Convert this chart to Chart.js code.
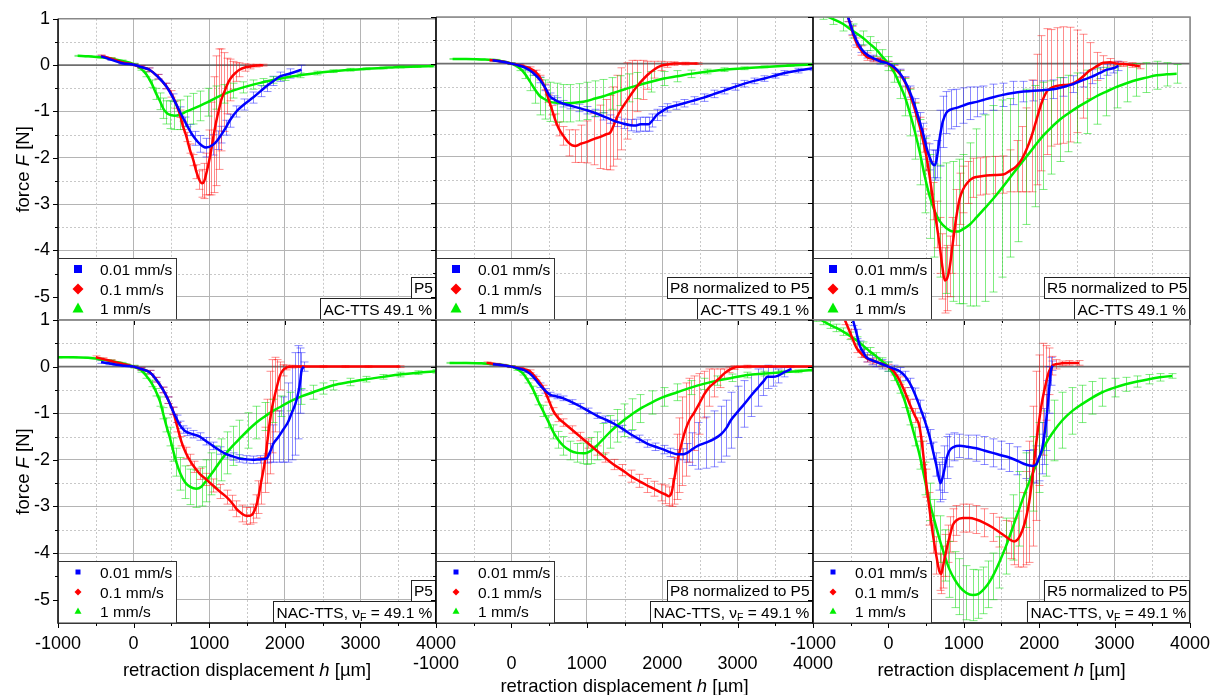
<!DOCTYPE html>
<html><head><meta charset="utf-8">
<script src="https://cdn.jsdelivr.net/npm/chart.js@4"></script>
<style>
html,body{margin:0;padding:0;background:#fff;}
#wrap{position:relative;width:1220px;height:695px;overflow:hidden;background:#fff;}
#wrap canvas{position:absolute;left:0;top:0;}
</style></head><body><div id="wrap">
<canvas id="c0" width="1220" height="695"></canvas>
<canvas id="c1" width="1220" height="695"></canvas>
<canvas id="c2" width="1220" height="695"></canvas>
<canvas id="c3" width="1220" height="695"></canvas>
<canvas id="c4" width="1220" height="695"></canvas>
<canvas id="c5" width="1220" height="695"></canvas>
</div>
<script>
// ---------- tick labels / categories ----------
const X_TICKS = [-1000, 0, 1000, 2000, 3000, 4000];
const Y_TICKS = [1, 0, -1, -2, -3, -4, -5];
const X_MINOR = [-500, 500, 1500, 2500, 3500];
const Y_MINOR = [0.5, -0.5, -1.5, -2.5, -3.5, -4.5];
const SPEEDS = ['0.01 mm/s', '0.1 mm/s', '1 mm/s'];
const SPECIMEN_LABELS = ['P5', 'P8 normalized to P5', 'R5 normalized to P5'];
const X_TITLE = 'retraction displacement h [µm]';
const Y_TITLE = 'force F [N]';

// ---------- AC-TTS, P5 ----------
const AC_P5_v001_h = [-430,-300,-150,0,100,210,320,430,520,610,680,740,810,875,960,1050,1110,1160,1220,1270,1360,1460,1580,1680,1760,1850,1930,2070,2220];
const AC_P5_v001_F = [0.19,0.12,0.04,0.01,-0.04,-0.1,-0.25,-0.45,-0.7,-1.0,-1.22,-1.4,-1.58,-1.7,-1.78,-1.72,-1.62,-1.5,-1.35,-1.2,-1.0,-0.85,-0.7,-0.56,-0.45,-0.34,-0.25,-0.18,-0.1];
const AC_P5_v001_err = [0.02,0.02,0.02,0.02,0.03,0.04,0.05,0.06,0.08,0.1,0.1,0.12,0.15,0.18,0.2,0.22,0.2,0.18,0.16,0.14,0.12,0.12,0.12,0.12,0.12,0.1,0.1,0.1,0.1];
const AC_P5_v01_h = [-430,-300,-150,0,100,210,320,430,500,565,610,650,700,740,790,830,870,905,935,960,995,1030,1060,1095,1130,1160,1200,1230,1270,1315,1360,1400,1470,1540,1620,1710];
const AC_P5_v01_F = [0.2,0.14,0.06,0.01,-0.04,-0.1,-0.25,-0.45,-0.62,-0.85,-1.05,-1.3,-1.55,-1.8,-2.05,-2.3,-2.48,-2.55,-2.5,-2.35,-2.1,-1.8,-1.5,-1.2,-0.95,-0.75,-0.58,-0.45,-0.32,-0.22,-0.15,-0.1,-0.05,-0.03,-0.01,0.0];
const AC_P5_v01_err = [0.02,0.02,0.02,0.02,0.03,0.04,0.05,0.06,0.07,0.08,0.08,0.09,0.1,0.1,0.12,0.15,0.2,0.3,0.38,0.45,0.7,1.0,1.25,1.4,1.3,1.1,0.85,0.6,0.45,0.3,0.2,0.15,0.08,0.05,0.03,0.02];
const AC_P5_v1_h = [-740,-600,-450,-300,-150,0,100,170,240,300,350,390,430,475,540,610,700,790,875,980,1095,1200,1315,1450,1580,1710,1845,2000,2200,2420,2640,2860,3080,3300,3520,3750,3965];
const AC_P5_v1_F = [0.2,0.19,0.17,0.14,0.09,0.02,-0.08,-0.2,-0.4,-0.62,-0.78,-0.93,-1.02,-1.07,-1.09,-1.07,-1.0,-0.94,-0.88,-0.8,-0.7,-0.62,-0.55,-0.48,-0.42,-0.37,-0.32,-0.27,-0.22,-0.17,-0.13,-0.1,-0.08,-0.06,-0.04,-0.03,-0.02];
const AC_P5_v1_err = [0.01,0.01,0.01,0.02,0.02,0.02,0.03,0.05,0.08,0.12,0.18,0.22,0.25,0.3,0.3,0.32,0.33,0.33,0.32,0.3,0.25,0.2,0.16,0.12,0.1,0.08,0.07,0.06,0.05,0.04,0.03,0.03,0.02,0.02,0.02,0.02,0.02];

// ---------- AC-TTS, P8 normalized to P5 ----------
const AC_P8_v001_h = [-250,-120,0,100,200,290,380,450,510,560,600,690,780,890,1000,1110,1220,1310,1400,1490,1580,1650,1710,1770,1820,1870,1930,2000,2070,2180,2290,2420,2550,2690,2820,2960,3090,3220,3355,3490,3620,3800,4000];
const AC_P8_v001_F = [0.07,0.04,0.0,-0.04,-0.1,-0.2,-0.35,-0.52,-0.7,-0.76,-0.8,-0.86,-0.9,-0.95,-1.0,-1.06,-1.13,-1.19,-1.25,-1.29,-1.32,-1.33,-1.3,-1.3,-1.3,-1.22,-1.1,-1.02,-0.95,-0.9,-0.85,-0.79,-0.73,-0.65,-0.58,-0.5,-0.43,-0.37,-0.32,-0.26,-0.2,-0.15,-0.1];
const AC_P8_v001_err = [0.02,0.02,0.02,0.03,0.04,0.05,0.06,0.06,0.07,0.07,0.07,0.07,0.07,0.08,0.08,0.08,0.08,0.09,0.1,0.1,0.12,0.14,0.15,0.15,0.15,0.14,0.12,0.1,0.09,0.08,0.08,0.08,0.08,0.08,0.07,0.07,0.07,0.06,0.06,0.05,0.05,0.05,0.05];
const AC_P8_v01_h = [-290,-150,0,120,245,320,380,440,490,540,580,630,690,760,845,920,1000,1090,1180,1250,1310,1350,1400,1460,1530,1600,1670,1740,1800,1890,1980,2070,2155,2300,2470];
const AC_P8_v01_F = [0.08,0.05,0.0,-0.04,-0.1,-0.18,-0.3,-0.5,-0.75,-1.0,-1.2,-1.4,-1.55,-1.7,-1.77,-1.72,-1.68,-1.62,-1.57,-1.52,-1.48,-1.35,-1.15,-0.97,-0.8,-0.63,-0.48,-0.35,-0.25,-0.13,-0.05,-0.02,0.0,0.0,0.0];
const AC_P8_v01_err = [0.01,0.01,0.01,0.02,0.03,0.04,0.05,0.06,0.08,0.1,0.12,0.15,0.2,0.28,0.35,0.4,0.45,0.55,0.68,0.75,0.8,0.85,0.9,0.88,0.82,0.7,0.55,0.42,0.3,0.18,0.1,0.06,0.04,0.03,0.02];
const AC_P8_v1_h = [-780,-600,-400,-200,0,110,180,245,310,380,450,510,600,690,780,890,1000,1110,1220,1330,1445,1560,1670,1850,2020,2200,2380,2600,2820,3090,3355,3700,4020];
const AC_P8_v1_F = [0.1,0.1,0.09,0.07,0.0,-0.1,-0.22,-0.38,-0.55,-0.7,-0.77,-0.82,-0.84,-0.85,-0.85,-0.83,-0.8,-0.75,-0.7,-0.64,-0.58,-0.52,-0.47,-0.39,-0.32,-0.27,-0.22,-0.17,-0.13,-0.1,-0.07,-0.04,-0.02];
const AC_P8_v1_err = [0.01,0.01,0.01,0.02,0.02,0.05,0.1,0.2,0.3,0.4,0.42,0.42,0.42,0.4,0.4,0.4,0.4,0.38,0.36,0.34,0.32,0.3,0.28,0.22,0.15,0.12,0.08,0.05,0.04,0.03,0.02,0.02,0.02];

// ---------- AC-TTS, R5 normalized to P5 ----------
const AC_R5_v001_h = [-535,-480,-425,-360,-290,-200,-115,0,80,150,220,283,350,416,460,505,545,585,615,640,680,720,770,830,900,990,1080,1170,1257,1390,1520,1650,1790,1920,2050,2180,2320,2450,2585,2700,2805,2900,2980,3050];
const AC_R5_v001_F = [1.0,0.72,0.5,0.32,0.2,0.12,0.05,0.0,-0.08,-0.2,-0.38,-0.6,-0.9,-1.25,-1.5,-1.8,-2.0,-2.15,-2.18,-2.05,-1.6,-1.25,-1.05,-0.98,-0.95,-0.9,-0.85,-0.82,-0.78,-0.72,-0.67,-0.63,-0.6,-0.58,-0.57,-0.55,-0.5,-0.44,-0.35,-0.28,-0.2,-0.13,-0.1,-0.05];
const AC_R5_v001_err = [0.1,0.1,0.1,0.08,0.08,0.06,0.06,0.05,0.06,0.08,0.1,0.12,0.15,0.2,0.22,0.25,0.28,0.3,0.32,0.4,0.6,0.55,0.45,0.42,0.4,0.38,0.35,0.32,0.3,0.28,0.25,0.25,0.22,0.22,0.2,0.2,0.2,0.18,0.15,0.15,0.12,0.12,0.1,0.1];
const AC_R5_v01_h = [-535,-480,-425,-360,-290,-200,-115,0,80,150,220,283,350,416,460,505,550,593,640,680,715,748,780,815,850,900,945,990,1050,1124,1210,1300,1410,1520,1610,1700,1770,1830,1900,1965,2030,2100,2160,2230,2320,2410,2500,2585,2670,2760,2850,2940,3030,3115,3230,3335];
const AC_R5_v01_F = [1.0,0.7,0.45,0.28,0.15,0.1,0.08,0.0,-0.1,-0.22,-0.4,-0.65,-0.98,-1.35,-1.65,-2.0,-2.45,-2.95,-3.45,-3.9,-4.35,-4.65,-4.6,-4.35,-3.9,-3.3,-2.9,-2.7,-2.55,-2.45,-2.42,-2.4,-2.39,-2.38,-2.3,-2.2,-2.05,-1.85,-1.55,-1.2,-0.85,-0.6,-0.52,-0.48,-0.46,-0.45,-0.38,-0.27,-0.15,-0.06,0.02,0.03,0.0,-0.01,-0.03,-0.06];
const AC_R5_v01_err = [0.1,0.1,0.1,0.1,0.08,0.06,0.05,0.05,0.06,0.08,0.1,0.12,0.15,0.2,0.25,0.3,0.35,0.4,0.5,0.6,0.7,0.7,0.7,0.65,0.6,0.6,0.55,0.5,0.45,0.42,0.4,0.4,0.4,0.4,0.45,0.55,0.7,0.9,1.2,1.4,1.45,1.35,1.25,1.25,1.25,1.23,1.1,0.9,0.6,0.3,0.15,0.08,0.05,0.05,0.05,0.05];
const AC_R5_v1_h = [-870,-740,-600,-470,-336,-250,-160,-80,0,80,150,220,283,350,416,480,548,610,680,770,860,930,990,1080,1168,1280,1390,1500,1610,1720,1830,1940,2050,2160,2275,2385,2495,2630,2760,2890,3026,3160,3290,3420,3557,3690,3823];
const AC_R5_v1_F = [1.05,0.96,0.85,0.7,0.55,0.43,0.3,0.15,0.0,-0.2,-0.45,-0.72,-1.05,-1.45,-1.9,-2.4,-2.85,-3.15,-3.38,-3.53,-3.6,-3.6,-3.55,-3.45,-3.3,-3.1,-2.9,-2.68,-2.45,-2.22,-2.0,-1.77,-1.55,-1.37,-1.2,-1.07,-0.95,-0.82,-0.7,-0.6,-0.5,-0.42,-0.35,-0.3,-0.25,-0.23,-0.22];
const AC_R5_v1_err = [0.1,0.12,0.15,0.15,0.15,0.15,0.15,0.15,0.15,0.2,0.3,0.4,0.5,0.6,0.7,0.8,0.9,1.0,1.2,1.4,1.5,1.55,1.6,1.75,1.9,2.0,2.0,1.9,1.7,1.6,1.45,1.3,1.15,1.0,0.9,0.82,0.75,0.68,0.6,0.52,0.45,0.4,0.35,0.32,0.3,0.25,0.2];

// ---------- NAC-TTS, P5 ----------
const NAC_P5_v001_h = [-430,-330,-230,-120,0,100,212,300,390,460,520,570,610,660,700,780,875,960,1050,1140,1230,1320,1400,1490,1580,1670,1760,1800,1850,1920,1980,2040,2090,2140,2180,2205,2220,2250];
const NAC_P5_v001_F = [0.1,0.07,0.04,0.02,0.0,-0.05,-0.12,-0.28,-0.5,-0.72,-0.95,-1.12,-1.25,-1.35,-1.4,-1.45,-1.5,-1.6,-1.7,-1.8,-1.88,-1.93,-1.97,-1.99,-2.0,-1.99,-1.97,-1.85,-1.65,-1.5,-1.35,-1.2,-1.0,-0.8,-0.55,-0.3,-0.1,0.0];
const NAC_P5_v001_err = [0.03,0.03,0.02,0.02,0.02,0.03,0.04,0.05,0.06,0.07,0.08,0.08,0.08,0.08,0.08,0.08,0.08,0.08,0.08,0.08,0.08,0.08,0.08,0.08,0.08,0.08,0.1,0.2,0.4,0.55,0.7,0.85,1.0,1.1,1.0,0.7,0.4,0.1];
const NAC_P5_v01_h = [-500,-400,-300,-200,-100,0,100,212,300,390,460,520,580,630,690,740,800,875,960,1050,1140,1230,1300,1360,1430,1490,1540,1580,1620,1650,1690,1740,1770,1800,1835,1870,1900,1935,1975,2020,2100,2200,2500,2800,3100,3520];
const NAC_P5_v01_F = [0.2,0.16,0.12,0.08,0.04,0.0,-0.05,-0.12,-0.28,-0.5,-0.72,-0.95,-1.3,-1.6,-1.85,-2.0,-2.15,-2.3,-2.42,-2.55,-2.68,-2.8,-2.92,-3.05,-3.15,-3.2,-3.2,-3.15,-3.0,-2.8,-2.45,-2.0,-1.6,-1.2,-0.85,-0.6,-0.4,-0.2,-0.08,-0.02,0.0,0.0,0.0,0.0,0.0,0.0];
const NAC_P5_v01_err = [0.03,0.03,0.03,0.02,0.02,0.02,0.03,0.04,0.05,0.06,0.07,0.08,0.1,0.1,0.12,0.12,0.12,0.12,0.13,0.14,0.15,0.15,0.16,0.17,0.18,0.18,0.18,0.2,0.25,0.35,0.5,0.7,0.9,1.1,1.0,0.8,0.55,0.3,0.12,0.05,0.03,0.02,0.02,0.02,0.02,0.02];
const NAC_P5_v1_h = [-1000,-800,-600,-450,-300,-150,0,100,170,240,300,350,390,430,475,520,565,620,680,750,830,900,960,1030,1095,1160,1230,1310,1400,1510,1625,1735,1845,1955,2065,2220,2375,2510,2640,2860,3080,3300,3520,3760,4000];
const NAC_P5_v1_F = [0.2,0.2,0.19,0.16,0.12,0.07,0.0,-0.08,-0.2,-0.36,-0.55,-0.75,-1.0,-1.25,-1.5,-1.78,-2.05,-2.3,-2.48,-2.58,-2.62,-2.57,-2.45,-2.3,-2.15,-2.0,-1.85,-1.7,-1.55,-1.37,-1.2,-1.07,-0.95,-0.85,-0.75,-0.64,-0.55,-0.47,-0.4,-0.33,-0.27,-0.22,-0.17,-0.13,-0.1];
const NAC_P5_v1_err = [0.01,0.01,0.01,0.02,0.02,0.02,0.03,0.04,0.05,0.07,0.08,0.1,0.12,0.15,0.2,0.25,0.3,0.35,0.35,0.38,0.4,0.42,0.45,0.45,0.45,0.45,0.45,0.42,0.4,0.38,0.35,0.3,0.25,0.22,0.2,0.17,0.15,0.12,0.1,0.08,0.06,0.05,0.05,0.04,0.04];

// ---------- NAC-TTS, P8 normalized to P5 ----------
const NAC_P8_v001_h = [-245,-120,0,100,200,290,380,450,510,600,690,800,910,1020,1130,1240,1355,1470,1580,1690,1800,1910,2020,2110,2200,2270,2330,2400,2470,2580,2690,2780,2850,2910,3000,3090,3180,3270,3340,3400,3470,3530,3620,3710];
const NAC_P8_v001_F = [0.05,0.03,0.0,-0.04,-0.1,-0.22,-0.4,-0.52,-0.6,-0.64,-0.68,-0.76,-0.85,-0.95,-1.05,-1.13,-1.22,-1.33,-1.45,-1.55,-1.65,-1.72,-1.78,-1.84,-1.88,-1.88,-1.85,-1.77,-1.7,-1.63,-1.55,-1.45,-1.32,-1.15,-0.97,-0.8,-0.62,-0.45,-0.32,-0.22,-0.22,-0.2,-0.12,-0.05];
const NAC_P8_v001_err = [0.02,0.02,0.02,0.02,0.03,0.04,0.05,0.05,0.05,0.05,0.05,0.05,0.06,0.06,0.06,0.07,0.07,0.07,0.08,0.08,0.08,0.08,0.09,0.09,0.1,0.12,0.2,0.35,0.5,0.55,0.6,0.6,0.6,0.6,0.55,0.5,0.45,0.4,0.3,0.25,0.2,0.15,0.1,0.05];
const NAC_P8_v01_h = [-330,-200,0,120,245,330,420,490,555,620,690,800,910,1020,1130,1240,1355,1470,1580,1690,1800,1890,1980,2040,2090,2125,2155,2190,2220,2265,2310,2360,2420,2490,2555,2620,2690,2760,2820,2890,2955,3130,3400,3700,4020];
const NAC_P8_v01_F = [0.08,0.05,0.0,-0.04,-0.1,-0.25,-0.45,-0.7,-0.95,-1.1,-1.2,-1.35,-1.5,-1.65,-1.8,-1.95,-2.1,-2.22,-2.35,-2.45,-2.55,-2.62,-2.7,-2.74,-2.78,-2.7,-2.45,-2.15,-1.9,-1.6,-1.35,-1.15,-1.0,-0.8,-0.6,-0.45,-0.35,-0.25,-0.15,-0.07,-0.02,0.0,0.0,0.0,0.0];
const NAC_P8_v01_err = [0.02,0.02,0.02,0.02,0.03,0.04,0.05,0.06,0.07,0.08,0.08,0.08,0.09,0.1,0.1,0.1,0.11,0.12,0.13,0.14,0.15,0.16,0.18,0.2,0.2,0.3,0.5,0.7,0.8,0.95,1.0,0.9,0.8,0.65,0.5,0.4,0.3,0.2,0.1,0.06,0.04,0.03,0.02,0.02,0.02];
const NAC_P8_v1_h = [-820,-600,-400,-200,0,80,155,220,290,350,420,490,555,620,690,780,870,950,1000,1060,1130,1220,1310,1400,1490,1600,1710,1860,2020,2200,2380,2550,2730,2930,3130,3350,3580,3800,4020];
const NAC_P8_v1_F = [0.08,0.08,0.07,0.05,0.0,-0.06,-0.15,-0.3,-0.5,-0.72,-0.95,-1.18,-1.4,-1.57,-1.7,-1.8,-1.85,-1.86,-1.85,-1.8,-1.7,-1.55,-1.4,-1.27,-1.15,-1.02,-0.9,-0.77,-0.65,-0.55,-0.45,-0.37,-0.3,-0.24,-0.18,-0.15,-0.12,-0.1,-0.07];
const NAC_P8_v1_err = [0.01,0.01,0.01,0.01,0.02,0.02,0.03,0.05,0.08,0.1,0.12,0.13,0.15,0.18,0.2,0.2,0.2,0.22,0.25,0.28,0.3,0.33,0.35,0.35,0.35,0.33,0.3,0.25,0.2,0.18,0.15,0.12,0.1,0.08,0.06,0.05,0.04,0.03,0.03];

// ---------- NAC-TTS, R5 normalized to P5 ----------
const NAC_R5_v001_h = [-467,-420,-380,-330,-290,-220,-160,-80,0,80,150,220,282,350,414,480,546,590,634,665,690,715,744,775,810,870,943,1050,1163,1270,1383,1490,1603,1710,1823,1870,1912,1960,2000,2040,2066,2090,2110,2132,2154,2176];
const NAC_R5_v001_F = [0.98,0.7,0.45,0.3,0.2,0.14,0.1,0.05,0.0,-0.05,-0.1,-0.2,-0.35,-0.58,-0.85,-1.15,-1.5,-1.8,-2.1,-2.35,-2.5,-2.4,-2.2,-1.95,-1.8,-1.72,-1.7,-1.72,-1.75,-1.8,-1.85,-1.9,-1.95,-2.02,-2.1,-2.12,-2.13,-2.1,-1.95,-1.75,-1.5,-1.2,-0.9,-0.5,-0.1,0.02];
const NAC_R5_v001_err = [0.1,0.1,0.1,0.1,0.1,0.1,0.1,0.1,0.1,0.08,0.08,0.1,0.1,0.12,0.13,0.15,0.15,0.18,0.25,0.3,0.4,0.45,0.5,0.45,0.35,0.3,0.25,0.25,0.28,0.3,0.3,0.3,0.3,0.3,0.3,0.32,0.35,0.4,0.5,0.55,0.6,0.6,0.6,0.5,0.3,0.1];
const NAC_R5_v01_h = [-577,-500,-423,-360,-290,-200,-100,0,80,150,220,282,350,414,460,502,545,590,635,678,700,722,755,788,820,854,900,987,1075,1163,1270,1383,1470,1560,1620,1670,1720,1780,1825,1868,1912,1956,2000,2044,2090,2132,2176,2220,2300,2396,2528];
const NAC_R5_v01_F = [1.0,0.7,0.4,0.28,0.18,0.12,0.07,0.0,-0.12,-0.3,-0.55,-0.8,-1.05,-1.3,-1.85,-2.5,-3.05,-3.6,-4.05,-4.4,-4.45,-4.3,-4.05,-3.8,-3.6,-3.4,-3.3,-3.25,-3.25,-3.28,-3.35,-3.45,-3.55,-3.65,-3.72,-3.75,-3.7,-3.5,-3.25,-2.9,-2.35,-1.7,-1.15,-0.7,-0.35,-0.1,0.02,0.05,0.07,0.08,0.08];
const NAC_R5_v01_err = [0.1,0.1,0.1,0.08,0.08,0.06,0.06,0.05,0.06,0.08,0.1,0.1,0.15,0.2,0.25,0.3,0.35,0.4,0.4,0.4,0.42,0.45,0.45,0.4,0.38,0.35,0.32,0.3,0.3,0.3,0.3,0.3,0.32,0.35,0.4,0.5,0.6,0.8,1.0,1.3,1.5,1.6,1.4,1.2,0.8,0.5,0.2,0.1,0.05,0.05,0.05];
const NAC_R5_v1_h = [-955,-870,-780,-690,-600,-510,-420,-336,-250,-160,-80,0,80,150,220,282,350,414,480,546,610,678,745,810,880,943,1030,1119,1190,1251,1320,1383,1470,1560,1650,1736,1825,1912,2000,2088,2200,2308,2440,2573,2700,2837,3000,3145,3300,3454,3600,3762];
const NAC_R5_v1_F = [1.05,0.98,0.9,0.83,0.75,0.66,0.56,0.45,0.33,0.22,0.11,0.0,-0.2,-0.45,-0.75,-1.1,-1.5,-1.9,-2.4,-2.9,-3.3,-3.7,-4.05,-4.35,-4.57,-4.72,-4.85,-4.9,-4.88,-4.8,-4.67,-4.5,-4.2,-3.85,-3.45,-3.05,-2.65,-2.3,-1.95,-1.65,-1.37,-1.15,-0.95,-0.8,-0.67,-0.55,-0.45,-0.38,-0.32,-0.27,-0.23,-0.2];
const NAC_R5_v1_err = [0.08,0.08,0.08,0.08,0.08,0.08,0.08,0.08,0.08,0.08,0.08,0.1,0.1,0.12,0.13,0.15,0.2,0.3,0.35,0.4,0.45,0.5,0.55,0.6,0.6,0.6,0.58,0.55,0.52,0.5,0.5,0.5,0.55,0.6,0.7,0.8,0.8,0.8,0.75,0.7,0.65,0.6,0.5,0.4,0.35,0.3,0.2,0.15,0.12,0.1,0.08,0.05];

// ---------- panel definitions ----------
const PANELS = [
  {col:0,row:0,spec:0,series:[[AC_P5_v001_h,AC_P5_v001_F,AC_P5_v001_err],[AC_P5_v01_h,AC_P5_v01_F,AC_P5_v01_err],[AC_P5_v1_h,AC_P5_v1_F,AC_P5_v1_err]]},
  {col:1,row:0,spec:1,series:[[AC_P8_v001_h,AC_P8_v001_F,AC_P8_v001_err],[AC_P8_v01_h,AC_P8_v01_F,AC_P8_v01_err],[AC_P8_v1_h,AC_P8_v1_F,AC_P8_v1_err]]},
  {col:2,row:0,spec:2,series:[[AC_R5_v001_h,AC_R5_v001_F,AC_R5_v001_err],[AC_R5_v01_h,AC_R5_v01_F,AC_R5_v01_err],[AC_R5_v1_h,AC_R5_v1_F,AC_R5_v1_err]]},
  {col:0,row:1,spec:0,series:[[NAC_P5_v001_h,NAC_P5_v001_F,NAC_P5_v001_err],[NAC_P5_v01_h,NAC_P5_v01_F,NAC_P5_v01_err],[NAC_P5_v1_h,NAC_P5_v1_F,NAC_P5_v1_err]]},
  {col:1,row:1,spec:1,series:[[NAC_P8_v001_h,NAC_P8_v001_F,NAC_P8_v001_err],[NAC_P8_v01_h,NAC_P8_v01_F,NAC_P8_v01_err],[NAC_P8_v1_h,NAC_P8_v1_F,NAC_P8_v1_err]]},
  {col:2,row:1,spec:2,series:[[NAC_R5_v001_h,NAC_R5_v001_F,NAC_R5_v001_err],[NAC_R5_v01_h,NAC_R5_v01_F,NAC_R5_v01_err],[NAC_R5_v1_h,NAC_R5_v1_F,NAC_R5_v1_err]]}
];

// ---------- styles / layout ----------
const COLORS = ['#0000ff', '#ff0000', '#00ee00'];
const ERR_COLORS = ['rgba(0,0,255,0.45)', 'rgba(255,0,0,0.45)', 'rgba(0,220,0,0.5)'];
const COL_L = [58, 436, 813], COL_R = [436, 813, 1190];
const ROW_T = [17, 320], ROW_B = [320, 623];
const FONT = 'Arial, "Liberation Sans", sans-serif';
Chart.defaults.font.family = FONT;

function fnt(size, it) { return (it ? 'italic ' : '') + size + 'px ' + FONT; }
function segsWidth(ctx, segs, size) {
  let w = 0;
  for (const s of segs) { ctx.font = fnt(s.sub ? size * 0.68 : size, s.it); w += ctx.measureText(s.t).width; }
  return w;
}
function drawSegs(ctx, segs, x, ymid, size) {
  ctx.textBaseline = 'alphabetic'; ctx.textAlign = 'left';
  let cx = x; const base = ymid + size * 0.36;
  for (const s of segs) {
    const sz = s.sub ? size * 0.68 : size;
    ctx.font = fnt(sz, s.it);
    ctx.fillText(s.t, cx, base + (s.sub ? size * 0.25 : 0));
    cx += ctx.measureText(s.t).width;
  }
}
function italicSegs(text, ch) {
  const i = text.indexOf(' ' + ch + ' ');
  return [{t: text.slice(0, i + 1)}, {t: ch, it: true}, {t: text.slice(i + 2)}];
}

const decoPlugin = {
  id: 'deco',
  beforeDatasetsDraw(chart, args, o) {
    const {ctx, chartArea: a} = chart; const xs = chart.scales.x, ys = chart.scales.y;
    ctx.save();
    ctx.beginPath(); ctx.rect(a.left, a.top, a.right - a.left, a.bottom - a.top); ctx.clip();
    ctx.strokeStyle = '#c8c8c8'; ctx.lineWidth = 1; ctx.setLineDash([2, 2]);
    X_MINOR.forEach(v => { const p = Math.round(xs.getPixelForValue(v)) + 0.5; ctx.beginPath(); ctx.moveTo(p, a.top); ctx.lineTo(p, a.bottom); ctx.stroke(); });
    Y_MINOR.forEach(v => { const p = Math.round(ys.getPixelForValue(v)) + 0.5; ctx.beginPath(); ctx.moveTo(a.left, p); ctx.lineTo(a.right, p); ctx.stroke(); });
    ctx.setLineDash([]);
    const z = ys.getPixelForValue(0);
    ctx.strokeStyle = '#6e6e6e'; ctx.lineWidth = 1.6;
    ctx.beginPath(); ctx.moveTo(a.left, z); ctx.lineTo(a.right, z); ctx.stroke();
    // error bars
    chart.data.datasets.forEach((ds, di) => {
      const meta = chart.getDatasetMeta(di);
      ctx.strokeStyle = ERR_COLORS[di]; ctx.lineWidth = 1;
      meta.data.forEach((pt, i) => {
        const e = ds.errs[i] || 0; if (!e) return;
        const v = ds.data[i].y;
        const y1 = ys.getPixelForValue(v + e), y2 = ys.getPixelForValue(v - e);
        const x = Math.round(pt.x) + 0.5;
        ctx.beginPath();
        ctx.moveTo(x, y1); ctx.lineTo(x, y2);
        ctx.moveTo(x - 4, y1); ctx.lineTo(x + 4, y1);
        ctx.moveTo(x - 4, y2); ctx.lineTo(x + 4, y2);
        ctx.stroke();
      });
    });
    ctx.restore();
  },
  afterDatasetsDraw(chart, args, o) {
    const {ctx, chartArea: a} = chart; const xs = chart.scales.x, ys = chart.scales.y;
    ctx.save();
    // frame: top/right grey, left/bottom black
    ctx.strokeStyle = '#888'; ctx.lineWidth = 1.5;
    ctx.beginPath(); ctx.moveTo(a.left, a.top); ctx.lineTo(a.right, a.top); ctx.lineTo(a.right, a.bottom); ctx.stroke();
    ctx.strokeStyle = '#000'; ctx.lineWidth = 1.5;
    ctx.beginPath(); ctx.moveTo(a.left, a.top); ctx.lineTo(a.left, a.bottom); ctx.lineTo(a.right, a.bottom); ctx.stroke();
    // outward ticks
    ctx.lineWidth = 1;
    X_TICKS.concat(X_MINOR).forEach(v => { const p = Math.round(xs.getPixelForValue(v)) + 0.5; const l = X_MINOR.includes(v) ? 3 : 5; ctx.beginPath(); ctx.moveTo(p, a.bottom); ctx.lineTo(p, a.bottom + l); ctx.stroke(); });
    Y_TICKS.concat(Y_MINOR).forEach(v => { const p = Math.round(ys.getPixelForValue(v)) + 0.5; const l = Y_MINOR.includes(v) ? 3 : 5; ctx.beginPath(); ctx.moveTo(a.left - l, p); ctx.lineTo(a.left, p); ctx.stroke(); });

    // legend box
    const lx = a.left, lw = 118, lh = 62, ly = a.bottom - lh;
    ctx.fillStyle = '#fff'; ctx.fillRect(lx, ly, lw, lh);
    ctx.strokeStyle = '#333'; ctx.lineWidth = 1;
    ctx.strokeRect(lx + 0.5, ly + 0.5, lw, lh - 0.5);
    const rowsY = [11, 31, 50];
    const big = o.row === 0;
    SPEEDS.forEach((lab, k) => {
      const cy = ly + rowsY[k], cx = lx + 20;
      ctx.fillStyle = COLORS[k];
      ctx.beginPath();
      if (k === 0) { const s = big ? 4 : 2.5; ctx.rect(cx - s, cy - s, 2 * s, 2 * s); }
      else if (k === 1) { const s = big ? 5.5 : 3.5; ctx.moveTo(cx, cy - s); ctx.lineTo(cx + s, cy); ctx.lineTo(cx, cy + s); ctx.lineTo(cx - s, cy); ctx.closePath(); }
      else { const s = big ? 5.5 : 3.5; ctx.moveTo(cx, cy - s); ctx.lineTo(cx + s, cy + s * 0.8); ctx.lineTo(cx - s, cy + s * 0.8); ctx.closePath(); }
      ctx.fill();
      ctx.fillStyle = '#000';
      drawSegs(ctx, [{t: lab}], lx + 42, cy, 15.5);
    });

    // label boxes (right bottom)
    const size = 15.5;
    const cond = o.row === 0 ? [{t: 'AC-TTS 49.1 %'}] : [{t: 'NAC-TTS, ν'}, {t: 'F', sub: true}, {t: ' = 49.1 %'}];
    const spec = [{t: SPECIMEN_LABELS[o.spec]}];
    const h2 = 22, h1 = 21;
    const w2 = Math.round(segsWidth(ctx, cond, size) + 7), w1 = Math.round(segsWidth(ctx, spec, size) + 6);
    const r = a.right;
    ctx.fillStyle = '#fff';
    ctx.fillRect(r - w2, a.bottom - h2, w2, h2);
    ctx.fillRect(r - w1, a.bottom - h2 - h1, w1, h1);
    ctx.strokeStyle = '#222'; ctx.lineWidth = 1;
    ctx.strokeRect(r - w2 + 0.5, a.bottom - h2 + 0.5, w2 - 1, h2 - 1);
    ctx.strokeRect(r - w1 + 0.5, a.bottom - h2 - h1 + 0.5, w1 - 1, h1);
    ctx.fillStyle = '#000';
    drawSegs(ctx, cond, r - w2 + 3.5, a.bottom - h2 / 2, size);
    drawSegs(ctx, spec, r - w1 + 3, a.bottom - h2 - h1 / 2, size);

    // axis titles
    ctx.fillStyle = '#000';
    if (o.row === 1) {
      const segs = italicSegs(X_TITLE, 'h');
      const w = segsWidth(ctx, segs, 18.5);
      drawSegs(ctx, segs, (a.left + a.right) / 2 - w / 2, a.bottom + (o.col === 1 ? 62 : 46), 18.5);
    }
    if (o.col === 0) {
      const segs = italicSegs(Y_TITLE, 'F');
      const w = segsWidth(ctx, segs, 18.5);
      ctx.save();
      ctx.translate(22, (a.top + a.bottom) / 2);
      ctx.rotate(-Math.PI / 2);
      drawSegs(ctx, segs, -w / 2, 0, 18.5);
      ctx.restore();
    }
    ctx.restore();
  }
};

PANELS.forEach((p, i) => {
  const L = COL_L[p.col], R = COL_R[p.col], T = ROW_T[p.row], B = ROW_B[p.row];
  const showY = p.col === 0, showX = p.row === 1;
  const YW = showY ? 50 : 0, XH = showX ? 66 : 0;
  const xPad = p.col === 1 ? 30 : 10;
  new Chart(document.getElementById('c' + i), {
    type: 'line',
    data: {
      datasets: p.series.map((s, k) => {
        const n = Math.min(s[0].length, s[1].length);
        const pts = [];
        for (let j = 0; j < n; j++) pts.push({x: s[0][j], y: s[1][j]});
        return {
          label: SPEEDS[k], data: pts, errs: s[2],
          borderColor: COLORS[k], backgroundColor: COLORS[k],
          borderWidth: 2.5, pointRadius: 0, fill: false,
          cubicInterpolationMode: 'monotone'
        };
      })
    },
    options: {
      responsive: false, animation: false, events: [],
      layout: {padding: {left: L - YW, right: 1220 - R, top: T, bottom: 695 - B - XH}},
      plugins: {legend: {display: false}, tooltip: {enabled: false}, deco: {row: p.row, col: p.col, spec: p.spec}},
      scales: {
        x: {
          type: 'linear', position: 'bottom', min: -1000, max: 4000,
          afterBuildTicks: s => { s.ticks = X_TICKS.map(v => ({value: v})); },
          afterFit: s => { s.height = XH; },
          ticks: {display: showX, autoSkip: false, maxRotation: 0, minRotation: 0, padding: xPad, color: '#000', font: {size: 18}, callback: v => String(v)},
          grid: {color: '#b4b4b4', lineWidth: 1, drawTicks: false},
          border: {display: false}
        },
        y: {
          type: 'linear', position: 'left', min: -5.5, max: 1,
          afterBuildTicks: s => { s.ticks = Y_TICKS.map(v => ({value: v})); },
          afterFit: s => { s.width = YW; },
          ticks: {display: showY, padding: 8, color: '#000', font: {size: 18}, callback: v => String(v)},
          grid: {color: '#b4b4b4', lineWidth: 1, drawTicks: false},
          border: {display: false}
        }
      }
    },
    plugins: [decoPlugin]
  });
});
</script></body></html>
